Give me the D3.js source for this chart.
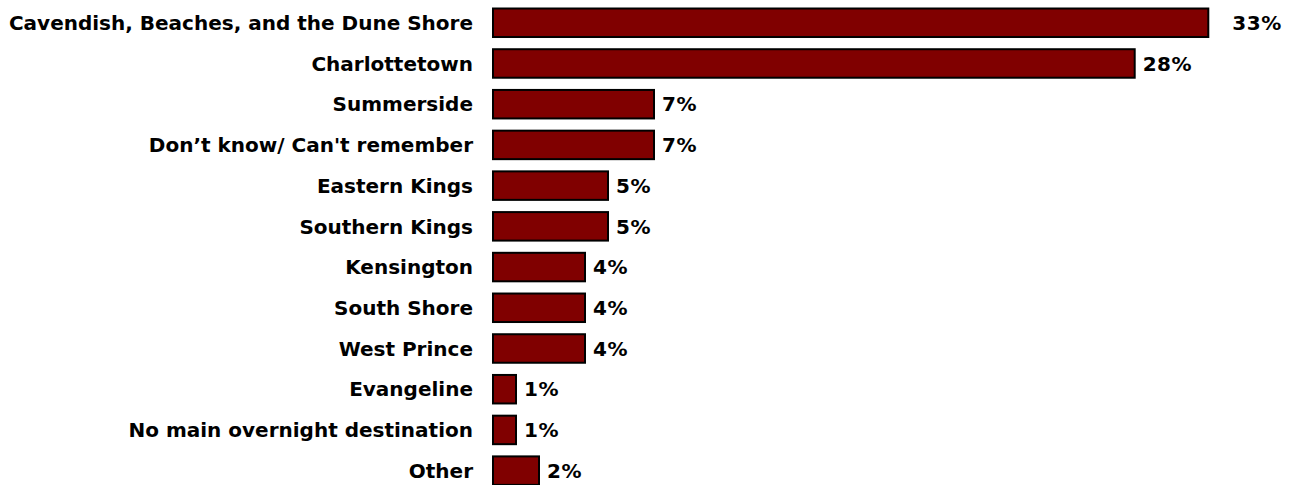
<!DOCTYPE html>
<html>
<head>
<meta charset="utf-8">
<script src="https://cdn.jsdelivr.net/npm/d3@7"></script>
<style>
  html, body { margin: 0; padding: 0; background: #fff; }
  svg { display: block; }
  text { font-family: "DejaVu Sans", Verdana, sans-serif; font-weight: bold; fill: #000; }
</style>
</head>
<body>
<svg id="chart" width="1305" height="485"></svg>
<script>
const categories = [
  "Cavendish, Beaches, and the Dune Shore",
  "Charlottetown",
  "Summerside",
  "Don\u2019t know/ Can't remember",
  "Eastern Kings",
  "Southern Kings",
  "Kensington",
  "South Shore",
  "West Prince",
  "Evangeline",
  "No main overnight destination",
  "Other"
];
const values = [31.1, 27.9, 7, 7, 5, 5, 4, 4, 4, 1, 1, 2];
const valueLabels = ["33%", "28%", "7%", "7%", "5%", "5%", "4%", "4%", "4%", "1%", "1%", "2%"];

const svg = d3.select("#chart");
const x0 = 493;
const x = d3.scaleLinear().domain([0, 1]).range([x0, x0 + 23]);
const y = d3.scaleBand().domain(categories).range([2.4, 491]).paddingInner(0.3).paddingOuter(0.15);

const fs = 20;

svg.selectAll("rect.bar").data(values).join("rect")
  .attr("class", "bar")
  .attr("x", x(0))
  .attr("y", (d, i) => y(categories[i]))
  .attr("width", d => x(d) - x(0))
  .attr("height", y.bandwidth())
  .attr("fill", "#800000")
  .attr("stroke", "#000")
  .attr("stroke-width", 2);

svg.selectAll("text.cat").data(categories).join("text")
  .attr("class", "cat")
  .attr("x", x0 - 20)
  .attr("y", d => y(d) + y.bandwidth() / 2)
  .attr("dy", "0.36em")
  .attr("text-anchor", "end")
  .style("font-size", fs + "px")
  .text(d => d);

svg.selectAll("text.val").data(values).join("text")
  .attr("class", "val")
  .attr("x", (d, i) => x(d) + 8 + (i === 0 ? 16 : 0))
  .attr("y", (d, i) => y(categories[i]) + y.bandwidth() / 2)
  .attr("dy", "0.36em")
  .style("font-size", fs + "px")
  .style("letter-spacing", "0.5px")
  .text((d, i) => valueLabels[i]);
</script>
</body>
</html>
